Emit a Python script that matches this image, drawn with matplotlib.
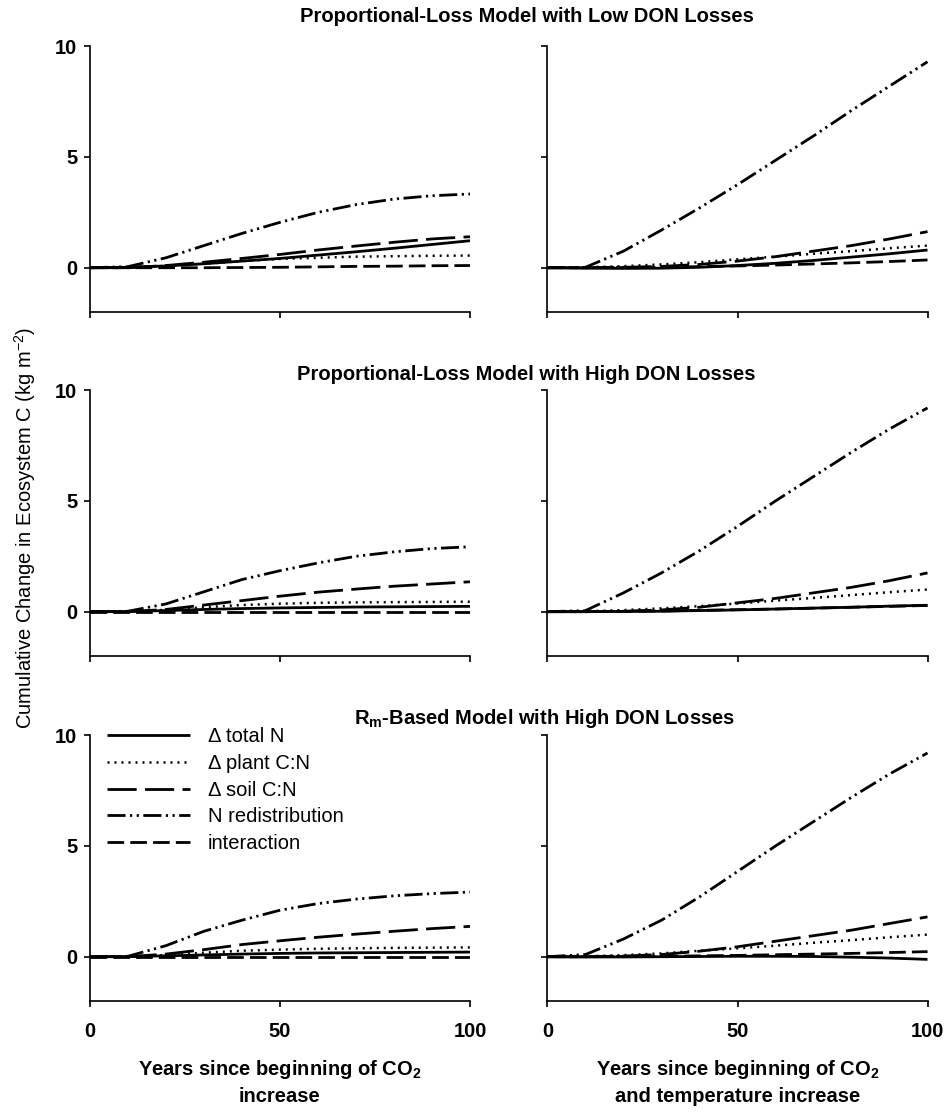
import numpy as np
import matplotlib
matplotlib.use("Agg")
import matplotlib.pyplot as plt

plt.rcParams['font.family'] = ['Liberation Sans', 'DejaVu Sans']
plt.rcParams['mathtext.fontset'] = 'custom'
plt.rcParams['mathtext.rm'] = 'Liberation Sans'
plt.rcParams['mathtext.bf'] = 'Liberation Sans:bold'

years = [0, 10, 20, 30, 40, 50, 60, 70, 80, 90, 100]
labels = ["\u0394 total N", "\u0394 plant C:N", "\u0394 soil C:N", "N redistribution", "interaction"]

# proportional-loss, low DON, CO2 only
low_co2_total = [0, 0.02, 0.08, 0.18, 0.30, 0.42, 0.57, 0.72, 0.88, 1.05, 1.22]
low_co2_plant = [0, 0.02, 0.08, 0.18, 0.30, 0.40, 0.45, 0.50, 0.52, 0.54, 0.55]
low_co2_soil = [0, 0, 0.10, 0.25, 0.42, 0.60, 0.80, 0.98, 1.15, 1.30, 1.40]
low_co2_redist = [0, 0.05, 0.45, 1.00, 1.55, 2.05, 2.50, 2.85, 3.10, 3.25, 3.33]
low_co2_inter = [0, 0, 0, 0, 0.01, 0.02, 0.04, 0.06, 0.07, 0.09, 0.10]

# proportional-loss, low DON, CO2 + temperature
low_ct_total = [0, -0.02, -0.03, -0.02, 0.02, 0.10, 0.20, 0.33, 0.48, 0.63, 0.80]
low_ct_plant = [0, 0.02, 0.07, 0.15, 0.25, 0.38, 0.50, 0.63, 0.75, 0.88, 1.00]
low_ct_soil = [0, 0, 0.02, 0.06, 0.15, 0.30, 0.50, 0.75, 1.00, 1.30, 1.63]
low_ct_redist = [0, 0.02, 0.75, 1.70, 2.70, 3.75, 4.85, 5.95, 7.10, 8.20, 9.30]
low_ct_inter = [0, 0, 0.01, 0.02, 0.05, 0.08, 0.12, 0.17, 0.22, 0.28, 0.35]

# proportional-loss, high DON, CO2 only
high_co2_total = [0, 0.01, 0.05, 0.10, 0.14, 0.17, 0.19, 0.21, 0.22, 0.23, 0.24]
high_co2_plant = [0, 0.01, 0.08, 0.20, 0.30, 0.36, 0.40, 0.42, 0.43, 0.44, 0.45]
high_co2_soil = [0, 0, 0.10, 0.30, 0.50, 0.70, 0.88, 1.02, 1.15, 1.25, 1.35]
high_co2_redist = [0, 0.02, 0.35, 0.90, 1.45, 1.85, 2.20, 2.50, 2.70, 2.85, 2.93]
high_co2_inter = [0, 0, 0, 0, 0, 0, 0, 0, 0, 0, 0]

# proportional-loss, high DON, CO2 + temperature
high_ct_total = [0, 0, 0.01, 0.02, 0.05, 0.08, 0.12, 0.16, 0.20, 0.25, 0.29]
high_ct_plant = [0, 0.02, 0.07, 0.15, 0.25, 0.37, 0.50, 0.62, 0.75, 0.88, 1.00]
high_ct_soil = [0, 0, 0.02, 0.08, 0.20, 0.40, 0.60, 0.85, 1.10, 1.40, 1.75]
high_ct_redist = [0, 0.05, 0.85, 1.75, 2.75, 3.85, 5.00, 6.10, 7.20, 8.25, 9.20]
high_ct_inter = [0, 0, 0.01, 0.03, 0.06, 0.09, 0.12, 0.16, 0.20, 0.24, 0.28]

# Rm-based, high DON, CO2 only
rm_co2_total = [0, 0.01, 0.04, 0.08, 0.12, 0.15, 0.17, 0.18, 0.19, 0.20, 0.21]
rm_co2_plant = [0, 0.01, 0.07, 0.18, 0.27, 0.32, 0.36, 0.38, 0.40, 0.41, 0.42]
rm_co2_soil = [0, 0, 0.12, 0.32, 0.55, 0.72, 0.88, 1.02, 1.15, 1.27, 1.37]
rm_co2_redist = [0, 0.02, 0.50, 1.15, 1.65, 2.10, 2.40, 2.60, 2.75, 2.85, 2.92]
rm_co2_inter = [0, 0, 0, 0, 0, 0, 0, 0, 0, 0, 0]

# Rm-based, high DON, CO2 + temperature
rm_ct_total = [0, -0.01, -0.01, 0, 0.01, 0.02, 0.02, 0.01, -0.02, -0.06, -0.12]
rm_ct_plant = [0, 0.02, 0.07, 0.15, 0.27, 0.38, 0.50, 0.63, 0.75, 0.88, 1.00]
rm_ct_soil = [0, 0, 0.03, 0.10, 0.25, 0.45, 0.70, 0.95, 1.20, 1.50, 1.80]
rm_ct_redist = [0, 0.10, 0.80, 1.65, 2.70, 3.85, 5.00, 6.10, 7.20, 8.25, 9.20]
rm_ct_inter = [0, 0, 0.01, 0.02, 0.04, 0.06, 0.09, 0.12, 0.15, 0.19, 0.23]

titles = ["Proportional-Loss Model with Low DON Losses",
          "Proportional-Loss Model with High DON Losses",
          r"R$_\mathbf{m}$-Based Model with High DON Losses"]

panels = [
    [[low_co2_total, low_co2_plant, low_co2_soil, low_co2_redist, low_co2_inter],
     [low_ct_total, low_ct_plant, low_ct_soil, low_ct_redist, low_ct_inter]],
    [[high_co2_total, high_co2_plant, high_co2_soil, high_co2_redist, high_co2_inter],
     [high_ct_total, high_ct_plant, high_ct_soil, high_ct_redist, high_ct_inter]],
    [[rm_co2_total, rm_co2_plant, rm_co2_soil, rm_co2_redist, rm_co2_inter],
     [rm_ct_total, rm_ct_plant, rm_ct_soil, rm_ct_redist, rm_ct_inter]],
]

styles = [
    dict(linestyle='-', lw=2.0),
    dict(linestyle=(0, (0.8, 2.0)), lw=1.8),
    dict(linestyle=(0, (10.5, 3.0)), lw=2.0),
    dict(linestyle=(0, (6.5, 1.6, 0.8, 1.6, 0.8, 1.6)), lw=2.0),
    dict(linestyle=(0, (6.0, 2.2)), lw=2.0),
]

fs = 14.5

fig = plt.figure(figsize=(9.51, 11.12), dpi=100)

lefts = [0.0946, 0.5757]
bottoms = [0.7194, 0.4101, 0.0998]
w, h = 0.3996, 0.2390

for r in range(3):
    for c in range(2):
        ax = fig.add_axes([lefts[c], bottoms[r], w, h])
        for s, st in zip(panels[r][c], styles):
            ax.plot(years, s, color='black', solid_capstyle='butt', dash_capstyle='butt', **st)
        ax.set_xlim(0, 100)
        ax.set_ylim(-2, 10)
        ax.set_xticks([0, 50, 100])
        ax.set_yticks([0, 5, 10])
        for sp in ['top', 'right']:
            ax.spines[sp].set_visible(False)
        for sp in ['left', 'bottom']:
            ax.spines[sp].set_linewidth(1.2)
        ax.tick_params(direction='out', length=4, width=1.2, labelsize=fs)
        ax.tick_params(axis='x', pad=11)
        ax.tick_params(axis='y', pad=5)
        for t in ax.get_xticklabels() + ax.get_yticklabels():
            t.set_fontweight('bold')
        if c == 1:
            ax.set_yticklabels([])
        if r < 2:
            ax.set_xticklabels([])
        if r == 2 and c == 0:
            ax.legend(labels, loc='upper left', bbox_to_anchor=(0.1125, 0.3458),
                      bbox_transform=fig.transFigure, frameon=False, fontsize=fs,
                      handlelength=4.1, handletextpad=0.9, labelspacing=0.38,
                      borderpad=0, borderaxespad=0)
        if r == 2:
            if c == 0:
                ax.set_xlabel("Years since beginning of CO$_\\mathbf{2}$\nincrease",
                              fontsize=fs, fontweight='bold', labelpad=12, linespacing=1.4)
            else:
                ax.set_xlabel("Years since beginning of CO$_\\mathbf{2}$\nand temperature increase",
                              fontsize=fs, fontweight='bold', labelpad=12, linespacing=1.4)

title_y = [17, 375, 718]
title_x = [527, 526, 545]
for t, tx, ty in zip(titles, title_x, title_y):
    fig.text(tx / 951, 1 - ty / 1112, t, ha='center', va='center', fontsize=fs, fontweight='bold')

fig.text(25 / 951, 1 - 528 / 1112, "Cumulative Change in Ecosystem C (kg m$^{-2}$)",
         rotation=90, ha='center', va='center', fontsize=fs)

fig.savefig("out.png", dpi=100)
